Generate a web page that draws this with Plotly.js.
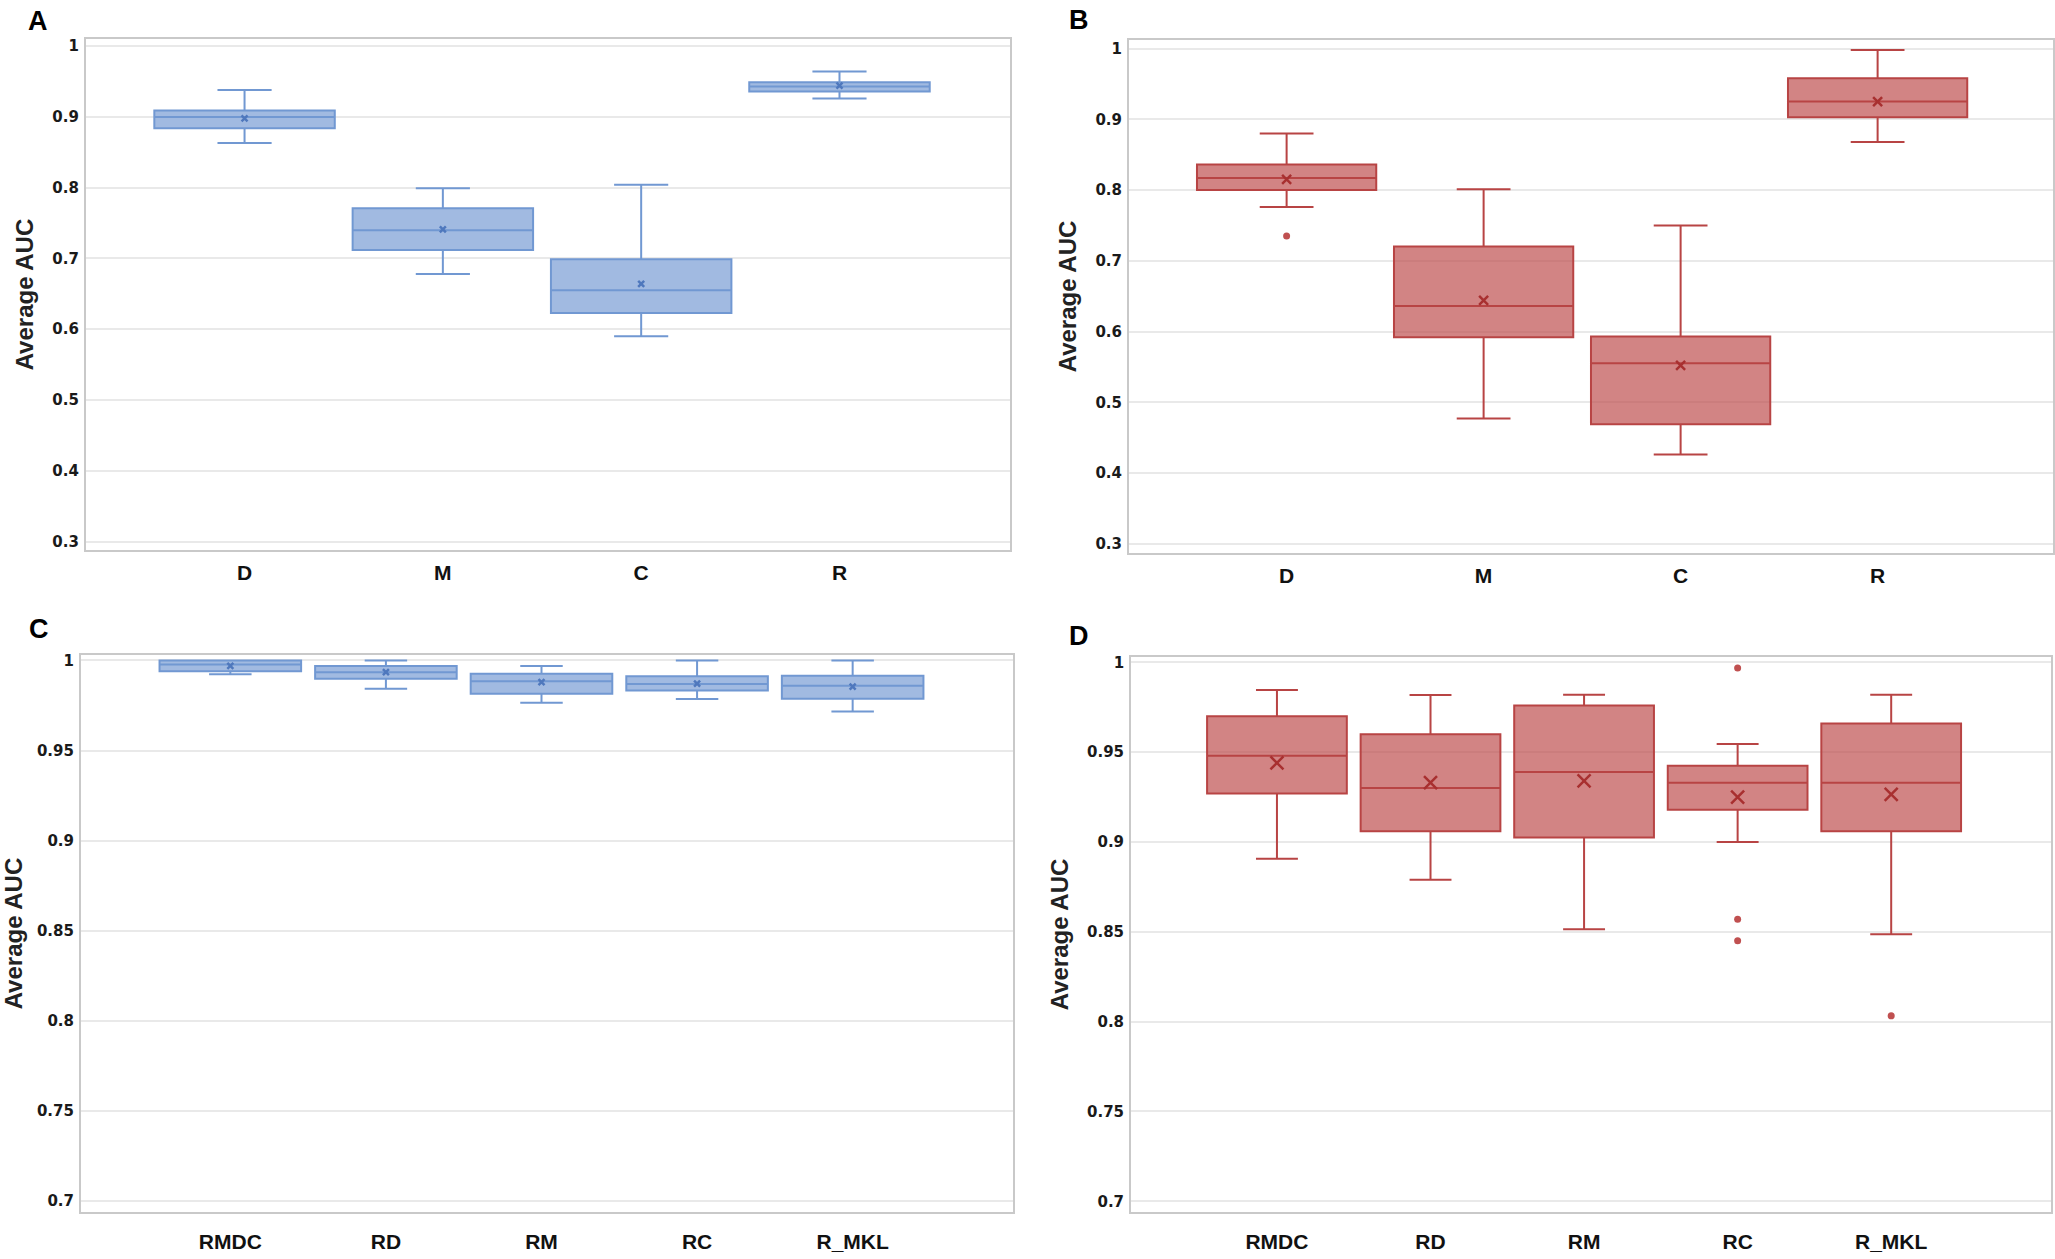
<!DOCTYPE html>
<html>
<head>
<meta charset="utf-8">
<script src="https://cdn.plot.ly/plotly-3.0.1.min.js"></script>
<style>html,body{margin:0;padding:0;background:#fff;}</style>
</head>
<body>
<div id="chart" style="width:2055px;height:1259px;"></div>
<script>
// ---------- Data ----------
const catsAB = ['D', 'M', 'C', 'R'];
const catsCD = ['RMDC', 'RD', 'RM', 'RC', 'R_MKL'];

// Panel A (blue)
const A_low  = [0.863, 0.678, 0.590, 0.926];
const A_q1   = [0.884, 0.712, 0.623, 0.936];
const A_med  = [0.900, 0.740, 0.655, 0.943];
const A_q3   = [0.909, 0.771, 0.699, 0.949];
const A_high = [0.938, 0.799, 0.804, 0.964];
const A_mean = [0.898, 0.741, 0.664, 0.944];

// Panel B (red)
const B_low  = [0.776, 0.477, 0.426, 0.868];
const B_q1   = [0.800, 0.592, 0.469, 0.903];
const B_med  = [0.817, 0.636, 0.555, 0.925];
const B_q3   = [0.836, 0.720, 0.593, 0.958];
const B_high = [0.880, 0.801, 0.750, 0.998];
const B_mean = [0.815, 0.644, 0.552, 0.925];
const B_outX = ['D'];
const B_outY = [0.735];

// Panel C (blue)
const C_low  = [0.9924, 0.9843, 0.9765, 0.9786, 0.9717];
const C_q1   = [0.9940, 0.9899, 0.9816, 0.9834, 0.9788];
const C_med  = [0.9977, 0.9935, 0.9885, 0.9870, 0.9860];
const C_q3   = [1.0000, 0.9970, 0.9926, 0.9912, 0.9915];
const C_high = [1.0000, 1.0000, 0.9970, 1.0000, 1.0000];
const C_mean = [0.9970, 0.9935, 0.9880, 0.9872, 0.9855];

// Panel D (red)
const D_low  = [0.8906, 0.8790, 0.8514, 0.9000, 0.8486];
const D_q1   = [0.9270, 0.9060, 0.9025, 0.9180, 0.9060];
const D_med  = [0.9480, 0.9300, 0.9390, 0.9330, 0.9330];
const D_q3   = [0.9700, 0.9600, 0.9760, 0.9424, 0.9660];
const D_high = [0.9846, 0.9818, 0.9820, 0.9546, 0.9820];
const D_mean = [0.9440, 0.9330, 0.9340, 0.9250, 0.9265];
const D_outX = ['RC', 'RC', 'RC', 'R_MKL'];
const D_outY = [0.9968, 0.857, 0.845, 0.8032];

const ticksAB = [0.3, 0.4, 0.5, 0.6, 0.7, 0.8, 0.9, 1.0];
const tickTextAB = ['0.3', '0.4', '0.5', '0.6', '0.7', '0.8', '0.9', '1'];
const ticksCD = [0.7, 0.75, 0.8, 0.85, 0.9, 0.95, 1.0];
const tickTextCD = ['0.7', '0.75', '0.8', '0.85', '0.9', '0.95', '1'];

// ---------- Styles ----------
const BLUE_LINE = '#7198d2';
const BLUE_FILL = 'rgba(112,150,210,0.66)';
const RED_LINE = '#b84444';
const RED_FILL = 'rgba(188,74,74,0.68)';

function boxTrace(cats, low, q1, med, q3, high, line, fill, xa, ya) {
  return {
    type: 'box', x: cats, q1: q1, median: med, q3: q3,
    lowerfence: low, upperfence: high,
    width: 0.91, whiskerwidth: 0.3,
    line: {color: line, width: 2}, fillcolor: fill,
    xaxis: xa, yaxis: ya, showlegend: false, hoverinfo: 'skip'
  };
}
function meanTrace(cats, mean, color, size, xa, ya) {
  return {
    type: 'scatter', mode: 'markers', x: cats, y: mean,
    marker: {symbol: 'x-thin', size: size, line: {color: color, width: 2.5}},
    xaxis: xa, yaxis: ya, showlegend: false, hoverinfo: 'skip'
  };
}
function outTrace(xs, ys, color, xa, ya) {
  return {
    type: 'scatter', mode: 'markers', x: xs, y: ys,
    marker: {symbol: 'circle', size: 7, color: color},
    xaxis: xa, yaxis: ya, showlegend: false, hoverinfo: 'skip'
  };
}

const data = [
  boxTrace(catsAB, A_low, A_q1, A_med, A_q3, A_high, BLUE_LINE, BLUE_FILL, 'x', 'y'),
  meanTrace(catsAB, A_mean, '#4f78bd', 6, 'x', 'y'),
  boxTrace(catsAB, B_low, B_q1, B_med, B_q3, B_high, RED_LINE, RED_FILL, 'x2', 'y2'),
  meanTrace(catsAB, B_mean, '#a83030', 9, 'x2', 'y2'),
  outTrace(B_outX, B_outY, '#c05050', 'x2', 'y2'),
  boxTrace(catsCD, C_low, C_q1, C_med, C_q3, C_high, BLUE_LINE, BLUE_FILL, 'x3', 'y3'),
  meanTrace(catsCD, C_mean, '#4f78bd', 6, 'x3', 'y3'),
  boxTrace(catsCD, D_low, D_q1, D_med, D_q3, D_high, RED_LINE, RED_FILL, 'x4', 'y4'),
  meanTrace(catsCD, D_mean, '#a83030', 13, 'x4', 'y4'),
  outTrace(D_outX, D_outY, '#c05050', 'x4', 'y4')
];

const tickFont = {family: 'DejaVu Sans, sans-serif', size: 15, color: '#1a1a1a', weight: 'bold'};
const catFont = {family: 'Liberation Sans, Arial, sans-serif', size: 21, color: '#111', weight: 'bold'};
const titleFont = {family: 'Liberation Sans, Arial, sans-serif', size: 24, color: '#222', weight: 'bold'};

function xAxis(domain, range, anchor, standoff) {
  return {
    domain: domain, anchor: anchor, type: 'category', range: range,
    showline: true, mirror: true, linecolor: '#c9c9c9', linewidth: 2,
    showgrid: false, zeroline: false, ticks: '', tickfont: catFont,
    ticklabelstandoff: standoff, fixedrange: true
  };
}
function yAxis(domain, range, anchor, tv, tt) {
  return {
    domain: domain, anchor: anchor, range: range,
    tickvals: tv, ticktext: tt,
    showline: true, mirror: true, linecolor: '#c9c9c9', linewidth: 2,
    showgrid: true, gridcolor: '#e9e9e9', gridwidth: 2, zeroline: false,
    ticks: '', tickfont: tickFont, ticklabelstandoff: 2,
    title: {text: '<b>Average AUC</b>', font: titleFont, standoff: 12},
    fixedrange: true
  };
}

const layout = {
  width: 2055, height: 1259, autosize: false,
  margin: {l: 0, r: 0, t: 0, b: 0},
  paper_bgcolor: '#ffffff', plot_bgcolor: '#ffffff',
  xaxis:  xAxis([0.0418, 0.4915], [-0.80, 3.86], 'y', 3),
  yaxis:  yAxis([0.5631, 0.9690], [0.288, 1.010], 'x', ticksAB, tickTextAB),
  xaxis2: xAxis([0.5494, 0.9990], [-0.80, 3.89], 'y2', 3),
  yaxis2: yAxis([0.5608, 0.9682], [0.287, 1.012], 'x2', ticksAB, tickTextAB),
  xaxis3: xAxis([0.0394, 0.4929], [-0.96, 5.03], 'y3', 10),
  yaxis3: yAxis([0.0373, 0.4797], [0.694, 1.003], 'x3', ticksCD, tickTextCD),
  xaxis4: xAxis([0.5504, 0.9980], [-0.95, 5.04], 'y4', 10),
  yaxis4: yAxis([0.0373, 0.4782], [0.694, 1.003], 'x4', ticksCD, tickTextCD),
  annotations: [
    {text: 'A', x: 38 / 2055, y: 1 - 21 / 1259},
    {text: 'B', x: 1079 / 2055, y: 1 - 20 / 1259},
    {text: 'C', x: 39 / 2055, y: 1 - 629 / 1259},
    {text: 'D', x: 1079 / 2055, y: 1 - 636 / 1259}
  ].map(a => Object.assign({
    xref: 'paper', yref: 'paper', showarrow: false,
    xanchor: 'center', yanchor: 'middle',
    font: {family: 'Liberation Sans, Arial, sans-serif', size: 27, color: '#000', weight: 'bold'}
  }, a))
};

Plotly.newPlot('chart', data, layout, {staticPlot: true, displayModeBar: false});
</script>
</body>
</html>
